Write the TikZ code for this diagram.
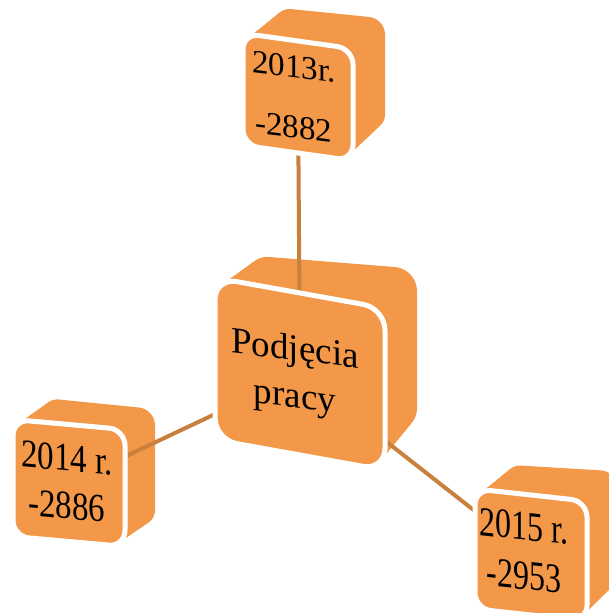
\documentclass[tikz,border=0pt]{standalone}
\usepackage{fontspec}
\setmainfont{Liberation Serif}
\pgfdeclarelayer{back}
\pgfdeclarelayer{lines}
\pgfsetlayers{back,lines,main}
\definecolor{boxorange}{HTML}{F39848}
\definecolor{linebrown}{HTML}{C8803E}
\tikzset{
  face/.style={draw=white, line width=5pt, fill=boxorange, inner sep=0pt, transform shape},
  conn/.style={draw=linebrown, line width=4pt},
  lbl/.style={align=center, inner sep=0pt, transform shape, text=black}
}
% #1 cx, #2 cy, #3 w, #4 h, #5 r, #6 front slant, #7 dx, #8 dy, #9 back slant
\newcommand{\cubeBack}[9]{%
  \begin{pgfonlayer}{back}
  \foreach \i in {0,...,30}{%
    \pgfmathsetmacro{\tt}{\i/30}%
    \pgfmathsetmacro{\sx}{#1+\tt*#7}%
    \pgfmathsetmacro{\sy}{#2+\tt*#8}%
    \pgfmathsetmacro{\sl}{-(#6+\tt*(#9-#6))}%
    \begin{scope}[shift={(\sx,\sy)}, yslant=\sl]
      \fill[boxorange, rounded corners=#5pt] ({-#3/2},{-#4/2}) rectangle ({#3/2},{#4/2});
    \end{scope}}
  \end{pgfonlayer}}
\newcommand{\cubeFront}[7]{%
  \begin{scope}[shift={(#1,#2)}, yslant=-#6]
    \node[face, minimum width=#3pt, minimum height=#4pt, rounded corners=#5pt] (#7) at (0,0) {};
  \end{scope}}
\begin{document}
\begin{tikzpicture}[x=1pt,y=-1pt]
\useasboundingbox (0,0) rectangle (608,613);
% back extrusions
\cubeBack{298}{97}{110}{112}{16}{0.14}{32}{-28}{0.10}
\cubeBack{300}{374}{170}{162}{22}{0.18}{32}{-31}{0.08}
\cubeBack{69}{483}{112}{117}{16}{0.09}{30}{-21}{0.10}
\cubeBack{531}{555}{112}{120}{16}{0.11}{30}{-27}{0.06}
% front faces
\cubeFront{298}{97}{110}{112}{16}{0.14}{top}
\cubeFront{300}{374}{170}{162}{22}{0.18}{mid}
\cubeFront{69}{483}{112}{117}{16}{0.09}{left}
\cubeFront{531}{555}{112}{120}{16}{0.11}{right}
% connectors
\begin{pgfonlayer}{lines}
  \draw[conn] (mid.center) -- (top.center);
  \draw[conn] (mid.center) -- (left.center);
  \draw[conn] (mid.center) -- (right.center);
\end{pgfonlayer}
% labels
\begin{scope}[shift={(294,97)}, yslant=-0.12]
  \node[lbl, font=\fontsize{33}{60}\selectfont] (ttop) at (0,0) {2013r.\\-2882};
\end{scope}
\begin{scope}[shift={(295,375)}, yslant=-0.12]
  \node[lbl, font=\fontsize{37}{47}\selectfont] (tmid) at (0,0) {Podjęcia\\pracy};
\end{scope}
\begin{scope}[shift={(67,482)}, yslant=-0.09, yscale=1.2]
  \node[lbl, font=\fontsize{33}{40}\selectfont] (tleft) at (0,0) {2014 r.\\-2886};
\end{scope}
\begin{scope}[shift={(524,551)}, yslant=-0.11, yscale=1.3]
  \node[lbl, font=\fontsize{32}{38}\selectfont] (tright) at (0,0) {2015 r.\\-2953};
\end{scope}
\end{tikzpicture}
\end{document}
